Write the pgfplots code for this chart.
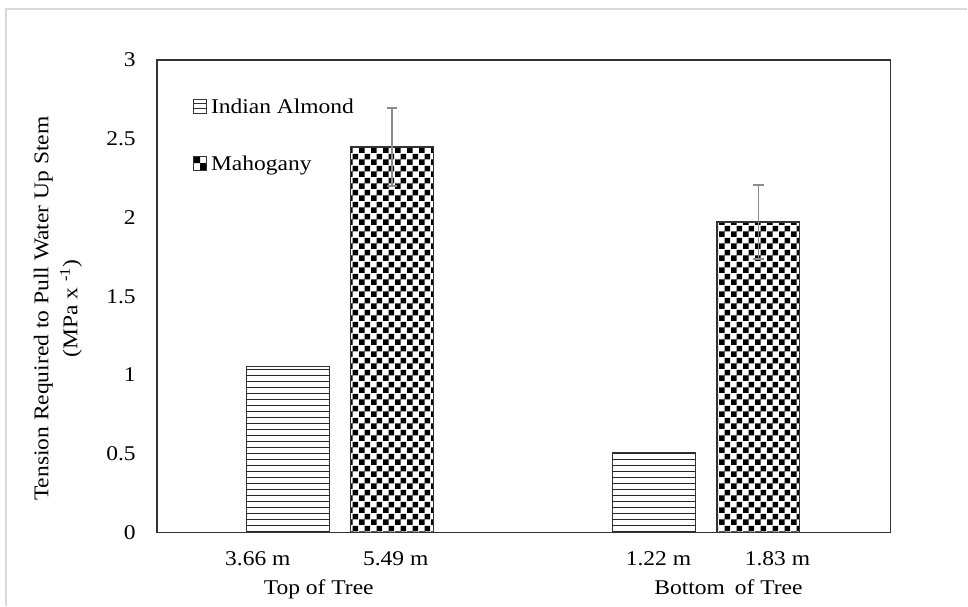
\documentclass[border=0pt]{standalone}
\usepackage{fontspec}
\setmainfont{Liberation Serif}[FakeStretch=1.12]
\usepackage{pgfplots}
\pgfplotsset{compat=1.18}
\usetikzlibrary{patterns}
\pgfdeclarepatternformonly{hlinesA}{\pgfqpoint{-1pt}{-1pt}}{\pgfqpoint{11pt}{7pt}}{\pgfqpoint{10pt}{6pt}}{\pgfsetlinewidth{1.2pt}\pgfpathmoveto{\pgfqpoint{-1pt}{3pt}}\pgfpathlineto{\pgfqpoint{11pt}{3pt}}\pgfusepath{stroke}}
\pgfdeclarepatternformonly{checkA}{\pgfqpoint{0pt}{0pt}}{\pgfqpoint{11.6pt}{11.6pt}}{\pgfqpoint{11.6pt}{11.6pt}}{\pgfpathrectangle{\pgfqpoint{0pt}{0pt}}{\pgfqpoint{5.8pt}{5.8pt}}\pgfpathrectangle{\pgfqpoint{5.8pt}{5.8pt}}{\pgfqpoint{5.8pt}{5.8pt}}\pgfusepath{fill}}
\definecolor{borderg}{RGB}{217,217,217}
\definecolor{errg}{RGB}{140,140,140}
\definecolor{edge}{RGB}{51,51,51}
\pgfplotstableread{
x y
288 1.053
654.4 0.507
}\almond
\pgfplotstableread{
x y e
392.4 2.448 0.247
758.9 1.972 0.235
}\mahog
\begin{document}
\begin{tikzpicture}[font=\fontsize{21}{29}\selectfont]
\path (0,0) rectangle (968pt,606pt);
\draw[borderg, line width=1.5pt] (6pt,0pt) -- (6pt,597pt) -- (968pt,597pt);
\begin{axis}[
  at={(157pt,73pt)}, anchor=south west,
  scale only axis, width=734pt, height=473pt,
  xmin=157, xmax=891, ymin=0, ymax=3,
  axis line style={black!80, line width=1.3pt},
  /pgf/number format/assume math mode=true,
  ytick={0,0.5,1,1.5,2,2.5,3},
  yticklabels={0,0.5,1,1.5,2,2.5,3},
  major tick length=0pt,
  xtick={258,396,659,778},
  xticklabels={3.66 m,5.49 m,1.22 m,1.83 m},
  xticklabel style={inner sep=0pt, anchor=north, yshift=-19pt},
  yticklabel style={inner sep=0pt, anchor=east, xshift=-21pt},
  ylabel={Tension Required to Pull Water Up Stem\\(MPa x \textsuperscript{-1})},
  ylabel style={at={(axis description cs:-0.135,0.4736)}, anchor=center, align=center},
  legend style={at={(axis cs:193,2.759)}, anchor=north west, draw=none, fill=none,
    inner sep=0pt, row sep=37pt,
    nodes={inner sep=0pt, text height=15pt, text depth=5pt, anchor=base west},
    /tikz/every odd column/.style={column sep=4pt}},
  legend cell align=left,
]
\addplot[ybar, bar width=83, bar shift=0pt, draw=edge, line width=1.3pt,
  pattern=hlinesA, pattern color=black!85,
  legend image code/.code={
    \pgfsetlinewidth{1pt}\pgfsetstrokecolor{edge}
    \pgfpathrectangle{\pgfqpoint{0pt}{0pt}}{\pgfqpoint{13pt}{14pt}}
    \pgfpathmoveto{\pgfqpoint{0pt}{4.67pt}}\pgfpathlineto{\pgfqpoint{13pt}{4.67pt}}
    \pgfpathmoveto{\pgfqpoint{0pt}{9.33pt}}\pgfpathlineto{\pgfqpoint{13pt}{9.33pt}}
    \pgfusepath{stroke}}
  ] table[x=x, y=y] {\almond};
\addlegendentry{Indian Almond}
\addplot[ybar, bar width=83, bar shift=0pt, draw=edge, line width=1.3pt,
  pattern=checkA, pattern color=black,
  legend image code/.code={
    \pgfsetfillcolor{black}
    \pgfpathrectangle{\pgfqpoint{0pt}{7pt}}{\pgfqpoint{6.5pt}{7pt}}
    \pgfpathrectangle{\pgfqpoint{6.5pt}{0pt}}{\pgfqpoint{6.5pt}{7pt}}
    \pgfusepath{fill}
    \pgfsetlinewidth{1pt}\pgfsetstrokecolor{edge}
    \pgfpathrectangle{\pgfqpoint{0pt}{0pt}}{\pgfqpoint{13pt}{14pt}}
    \pgfusepath{stroke}},
  error bars/.cd, y dir=both, y explicit,
  error bar style={errg, line width=1.5pt},
  error mark options={rotate=90, errg, line width=1.5pt, mark size=5.3pt}
  ] table[x=x, y=y, y error=e] {\mahog};
\addlegendentry{Mahogany}
\end{axis}
\node[anchor=base] at (319pt,11pt) {Top of Tree};
\node[anchor=base] at (729pt,11pt) {Bottom\hspace{4pt} of Tree};
\end{tikzpicture}
\end{document}
